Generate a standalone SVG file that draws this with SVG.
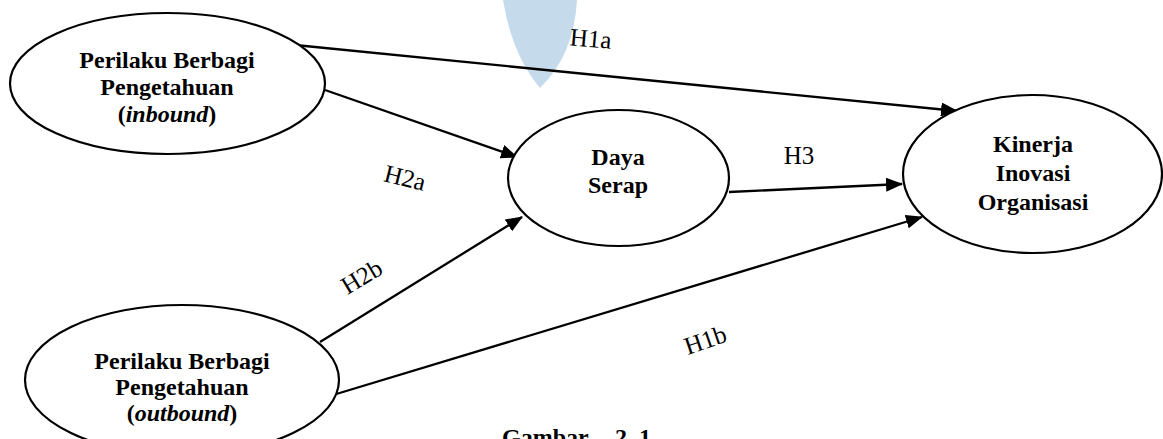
<svg xmlns="http://www.w3.org/2000/svg" width="1163" height="439" viewBox="0 0 1163 439">
<style>
.node ellipse{fill:#fff;stroke:#000;stroke-width:2.2}
.nt{font-family:"Liberation Serif","Times New Roman",serif;font-weight:bold;font-size:24px;text-anchor:middle;fill:#000}
.lbl{font-family:"Liberation Serif","Times New Roman",serif;font-size:25px;text-anchor:middle;fill:#000}
.conn line{stroke:#000;stroke-width:2.3;marker-end:url(#ah)}
.cap{font-family:"Liberation Serif","Times New Roman",serif;font-weight:bold;font-size:24px;fill:#000}
</style>
<defs>
<marker id="ah" markerUnits="userSpaceOnUse" markerWidth="17" markerHeight="14" refX="16" refY="7" orient="auto">
<path d="M0,0 L17,7 L0,14 Z" fill="#000"/>
</marker>
</defs>
<rect width="1163" height="439" fill="#fff"/>
<path d="M503,0 L577,0 Q574,55 540,88 Q512,55 503,0 Z" fill="#c5dbeb"/>
<g id="connectors" class="conn">
<line x1="295" y1="45" x2="957" y2="111"/>
<line x1="325" y1="90" x2="517" y2="157"/>
<line x1="320" y1="342" x2="522" y2="217"/>
<line x1="333" y1="395" x2="922" y2="217"/>
<line x1="729" y1="192" x2="902" y2="184"/>
</g>
<g id="node-inbound" class="node">
<ellipse cx="167.5" cy="83.5" rx="157.5" ry="70.5"/>
<text class="nt" x="167" y="68">Perilaku Berbagi</text>
<text class="nt" x="167" y="95">Pengetahuan</text>
<text class="nt" x="167" y="122">(<tspan font-style="italic">inbound</tspan>)</text>
</g>
<g id="node-outbound" class="node">
<ellipse cx="182" cy="380" rx="157" ry="75"/>
<text class="nt" x="182" y="369">Perilaku Berbagi</text>
<text class="nt" x="182" y="395">Pengetahuan</text>
<text class="nt" x="182" y="421">(<tspan font-style="italic">outbound</tspan>)</text>
</g>
<g id="node-daya" class="node">
<ellipse cx="618.5" cy="178" rx="110.5" ry="68"/>
<text class="nt" x="618" y="165">Daya</text>
<text class="nt" x="618" y="193">Serap</text>
</g>
<g id="node-kinerja" class="node">
<ellipse cx="1032.5" cy="174" rx="129.5" ry="79"/>
<text class="nt" x="1033" y="152">Kinerja</text>
<text class="nt" x="1033" y="181">Inovasi</text>
<text class="nt" x="1033" y="210">Organisasi</text>
</g>
<g id="labels">
<text class="lbl" transform="translate(590,47) rotate(5)">H1a</text>
<text class="lbl" transform="translate(403,186) rotate(14)">H2a</text>
<text class="lbl" transform="translate(366,284) rotate(-31)">H2b</text>
<text class="lbl" transform="translate(708,348) rotate(-19)">H1b</text>
<text class="lbl" x="799" y="164">H3</text>
</g>
<text class="cap" x="502" y="445">Gambar <tspan x="615">2. 1</tspan></text>
</svg>
